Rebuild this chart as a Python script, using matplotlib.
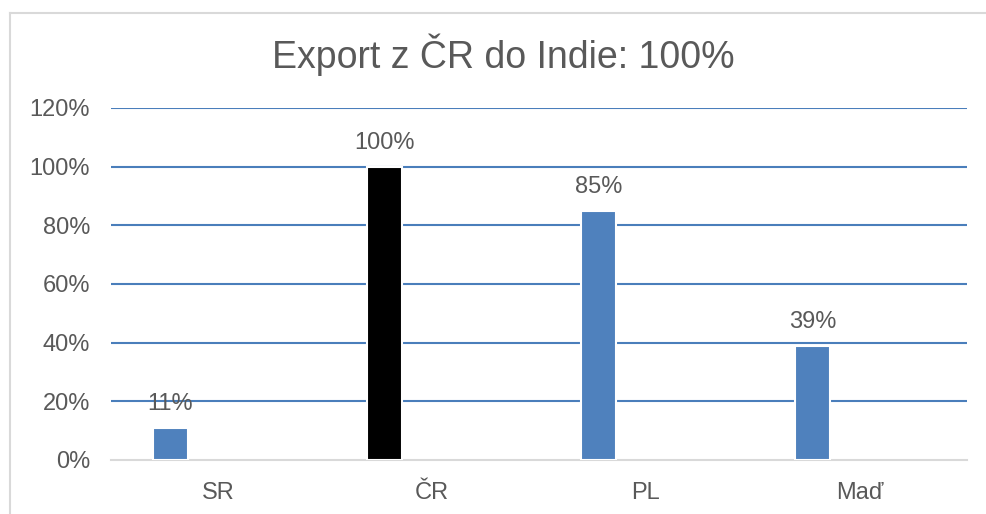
import matplotlib
matplotlib.use("Agg")
import matplotlib.pyplot as plt
from matplotlib.lines import Line2D

categories = ["SR", "ČR", "PL", "Maď"]
values = [0.11, 1.00, 0.85, 0.39]
bar_colors = ["#4f81bd", "#000000", "#4f81bd", "#4f81bd"]
yticks = [0, 0.2, 0.4, 0.6, 0.8, 1.0, 1.2]
title = "Export z ČR do Indie: 100%"

plt.rcParams['font.family'] = ['Liberation Sans', 'DejaVu Sans']
txt = "#595959"

fig = plt.figure(figsize=(9.87, 5.14), dpi=100)
ax = fig.add_axes([111/987, 54/514, (967-111)/987, (460-108)/514])

x = list(range(len(categories)))
xb = [i - 0.222 for i in x]
bars = ax.bar(xb, values, width=0.165, color=bar_colors, edgecolor="white",
              linewidth=1.5, zorder=3)
for xi, v in zip(xb, values):
    ax.annotate(f"{round(v*100)}%", (xi, v), xytext=(0, 9), textcoords="offset points",
                ha="center", va="bottom", fontsize=17, color=txt)

ax.set_xlim(-0.5, 3.5)
ax.set_ylim(0, 1.2)
ax.set_yticks(yticks)
ax.set_yticklabels([f"{round(t*100)}%" for t in yticks])
ax.set_xticks(x)
ax.set_xticklabels(categories)
ax.tick_params(axis="both", length=0, labelsize=17, colors=txt)
ax.tick_params(axis="y", pad=15)
ax.tick_params(axis="x", pad=16)
for s in ["top", "right", "left"]:
    ax.spines[s].set_visible(False)
ax.spines["bottom"].set_color("#d9d9d9")
ax.spines["bottom"].set_linewidth(1.5)
ax.yaxis.grid(True, color="#4a7ebb", linewidth=1.5, zorder=1)
ax.set_axisbelow(True)
# hide gridline at 0 under the axis
ax.get_ygridlines()[0].set_visible(False)

fig.text(503/987, 1 - 55/514, title, ha="center", va="center", fontsize=27, color=txt)

# outer chart border (cropped)
fig.add_artist(Line2D([9.5/987, 9.5/987], [0, 1 - 12.5/514], color="#d9d9d9", lw=1.5,
                      transform=fig.transFigure))
fig.add_artist(Line2D([9.5/987, 1], [1 - 12.5/514, 1 - 12.5/514], color="#d9d9d9", lw=1.5,
                      transform=fig.transFigure))

fig.savefig("out.png", dpi=100)
